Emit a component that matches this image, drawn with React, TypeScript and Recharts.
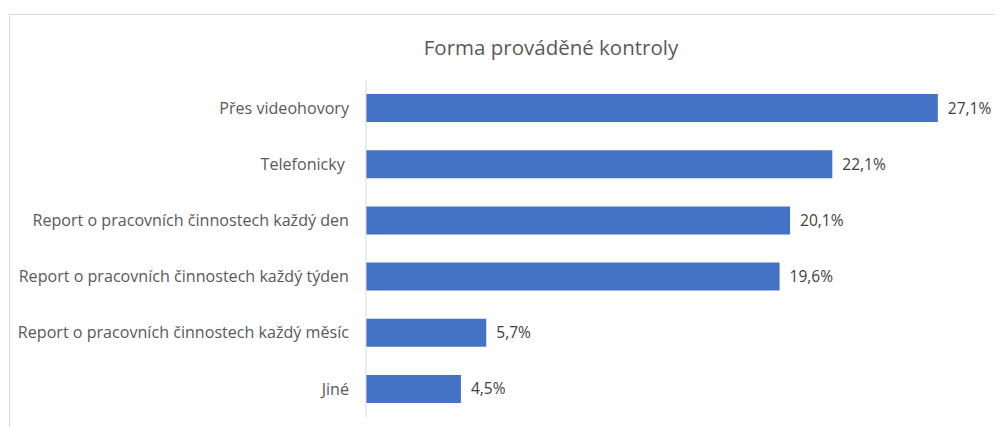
import React from "react";
import { BarChart, Bar, XAxis, YAxis, LabelList } from "recharts";

const categories = [
  "Přes videohovory",
  "Telefonicky\u00a0",
  "Report o pracovních činnostech každý den",
  "Report o pracovních činnostech každý týden",
  "Report o pracovních činnostech každý měsíc",
  "Jiné",
];

const shares = [27.1, 22.1, 20.1, 19.6, 5.7, 4.5];

const data = categories.map((name, i) => ({ name, value: shares[i] }));

const font = "'Open Sans', 'Noto Sans', sans-serif";

const fmt = (v: any) => `${Number(v).toFixed(1).replace(".", ",")}%`;

export default function App() {
  return (
    <div
      style={{
        position: "relative",
        width: 1002,
        height: 427,
        margin: "-8px 0 0 -8px",
        overflow: "hidden",
        background: "#fff",
        fontFamily: font,
      }}
    >
      <div
        style={{
          position: "absolute",
          left: 9,
          top: 14,
          width: 1010,
          height: 440,
          border: "1px solid #d9d9d9",
        }}
      />
      <div
        style={{
          position: "absolute",
          left: 0,
          width: 1002,
          top: 34,
          textAlign: "center",
          paddingLeft: 100,
          boxSizing: "border-box",
          fontSize: 20.5,
          color: "#595959",
          lineHeight: "26px",
        }}
      >
        Forma prováděné kontroly
      </div>
      <div style={{ position: "absolute", left: 0, top: 0 }}>
        <BarChart
          width={1002}
          height={427}
          data={data}
          layout="vertical"
          margin={{ top: 80, right: 3, bottom: 10, left: 0 }}
          barCategoryGap="25%"
        >
          <XAxis type="number" domain={[0, 30]} hide />
          <YAxis
            type="category"
            dataKey="name"
            width={366}
            axisLine={{ stroke: "#d9d9d9" }}
            tickLine={false}
            tickSize={0}
            tickMargin={17}
            tick={{ fill: "#595959", fontSize: 16.1, fontFamily: font }}
            interval={0}
          />
          <Bar dataKey="value" fill="#4472C4" isAnimationActive={false}>
            <LabelList
              dataKey="value"
              position="right"
              offset={10}
              formatter={fmt}
              style={{ fill: "#404040", fontSize: 15.5, fontFamily: font }}
            />
          </Bar>
        </BarChart>
      </div>
    </div>
  );
}
